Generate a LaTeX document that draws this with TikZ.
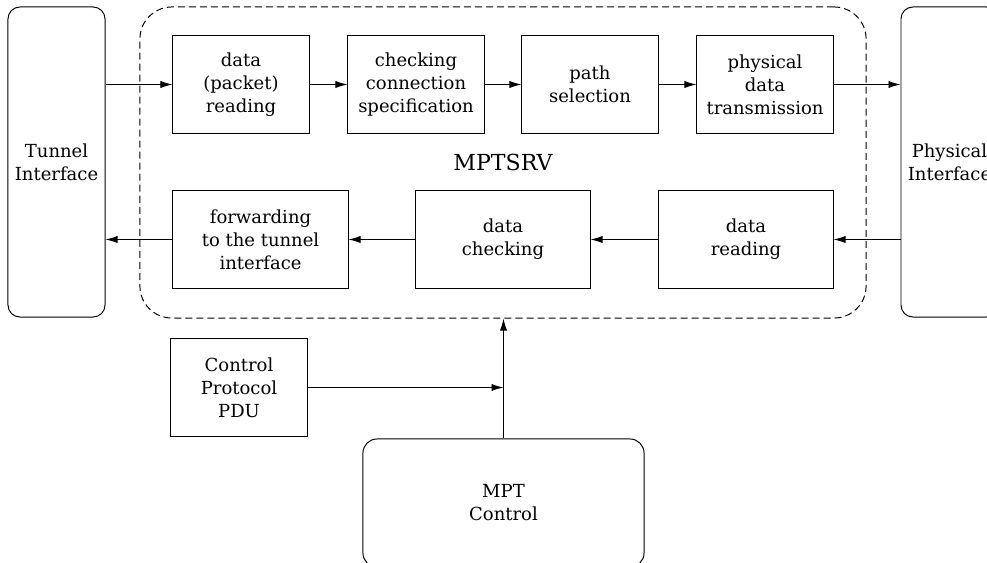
\documentclass[tikz,border=0pt]{standalone}
\usepackage{fontspec}
\setmainfont{DejaVu Serif}
\usetikzlibrary{arrows.meta,positioning,calc}

\begin{document}
\begin{tikzpicture}[x=0.025cm, y=-0.025cm, line width=0.7pt,
    box/.style={draw, align=center, inner sep=2pt, font=\fontsize{12.8}{16.3}\selectfont},
    iface/.style={box, rounded corners=0.3cm, minimum width=2.425cm, minimum height=7.75cm},
    arr/.style={-{Latex[length=3mm, width=1.8mm]}}]
    \useasboundingbox (0,0) rectangle (987,563);

    % MPTSRV frame
    \node[draw, dashed, dash pattern=on 1.75mm off 1mm, rounded corners=0.8cm,
          minimum width=18.15cm, minimum height=7.775cm,
          font=\fontsize{15.7}{19}\selectfont] (srv) at (503,162.5) {MPTSRV};

    % Interfaces
    \node[iface] (tunnel) at (56.5,162) {Tunnel\\Interface};
    \node[iface] (phys) at (949.5,162) {Physical\\Interface};

    % Sending path
    \node[box, minimum width=3.4cm, minimum height=2.425cm] (pktread) at (241,84.5) {data\\(packet)\\reading};
    \node[box, minimum width=3.4cm, minimum height=2.425cm] (conncheck) at (416,84.5) {checking\\connection\\specification};
    \node[box, minimum width=3.4cm, minimum height=2.425cm] (pathsel) at (590,84.5) {path\\selection};
    \node[box, minimum width=3.4cm, minimum height=2.425cm] (physsend) at (765,84.5) {physical\\data\\transmission};

    % Receiving path
    \node[box, minimum width=4.35cm, minimum height=2.425cm] (dataread) at (746,239.5) {data\\reading};
    \node[box, minimum width=4.35cm, minimum height=2.425cm] (datacheck) at (503,239.5) {data\\checking};
    \node[box, minimum width=4.375cm, minimum height=2.425cm] (forward) at (260.5,239.5) {forwarding\\to the tunnel\\interface};

    % Control
    \node[box, minimum width=3.4cm, minimum height=2.425cm] (pdu) at (239,387.5) {Control\\Protocol\\PDU};
    \node[box, rounded corners=0.35cm, minimum width=7.025cm, minimum height=3.2cm] (mpt) at (503.5,503) {MPT\\Control};
    \coordinate (join) at (mpt.north |- pdu.east);

    % Arrows
    \draw[arr] (tunnel.east |- pktread.west) -- (pktread);
    \draw[arr] (pktread) -- (conncheck);
    \draw[arr] (conncheck) -- (pathsel);
    \draw[arr] (pathsel) -- (physsend);
    \draw[arr] (physsend) -- (phys.west |- physsend.east);
    \draw[arr] (phys.west |- dataread.east) -- (dataread);
    \draw[arr] (dataread) -- (datacheck);
    \draw[arr] (datacheck) -- (forward);
    \draw[arr] (forward) -- (tunnel.east |- forward.west);
    \draw[arr] (mpt.north) -- (mpt.north |- srv.south);
    \draw[arr] (pdu) -- (join);
\end{tikzpicture}
\end{document}
